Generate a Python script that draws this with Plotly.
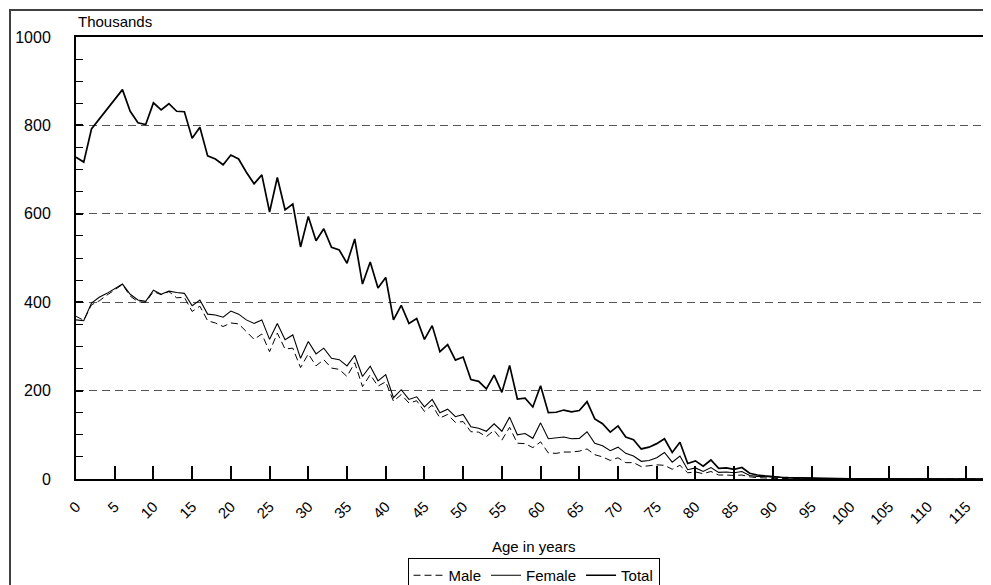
import plotly.graph_objects as go

ages = list(range(0, 119))

total = [
    728, 717, 792, 814, 836, 858, 881, 832, 806, 802,
    851, 835, 849, 832, 831, 771, 796, 731, 724, 711,
    733, 724, 694, 668, 688, 604, 682, 609, 622, 525,
    594, 539, 566, 524, 518, 488, 543, 441, 491, 432,
    456, 360, 393, 352, 363, 316, 347, 288, 304, 269,
    276, 225, 221, 204, 235, 196, 257, 181, 183, 163,
    211, 150, 151, 156, 152, 155, 175, 136, 125, 106,
    120, 95, 89, 68, 72, 80, 91, 60, 83, 35,
    41, 29, 43, 24, 25, 22, 26, 13, 9, 7,
    5, 4, 3, 2.5, 2.5, 1.5, 1, 0.6, 0.4, 0.3,
    0.4, 0.2, 0.1, 0.1, 0, 0, 0, 0, 0, 0,
    0, 0, 0, 0, 0, 0, 0, 0, 0,
]

female = [
    360, 358, 398, 411, 420, 430, 441, 418, 405, 402,
    427, 418, 425, 422, 420, 392, 405, 373, 371, 366,
    380, 373, 360, 352, 360, 316, 352, 315, 326, 273,
    311, 283, 296, 273, 270, 256, 280, 232, 255, 222,
    236, 184, 202, 180, 186, 163, 180, 150, 158, 141,
    146, 118, 115, 108, 125, 108, 140, 100, 103, 92,
    127, 91, 93, 95, 91, 92, 107, 81, 75, 64,
    72, 58, 52, 40, 42, 48, 60, 38, 52, 21,
    25, 17, 26, 15, 16, 14, 17, 8, 6, 5,
    3.5, 3, 2, 2, 2, 1, 0.7, 0.4, 0.3, 0.2,
    0.3, 0.1, 0.1, 0.1, 0, 0, 0, 0, 0, 0,
    0, 0, 0, 0, 0, 0, 0, 0, 0,
]

male = [
    368, 359, 394, 403, 416, 428, 440, 414, 401, 400,
    424, 417, 424, 410, 411, 379, 391, 358, 353, 345,
    353, 351, 334, 316, 328, 288, 330, 294, 296, 252,
    283, 256, 270, 251, 248, 232, 263, 209, 236, 210,
    220, 176, 191, 172, 177, 153, 167, 138, 146, 128,
    130, 107, 106, 96, 110, 88, 117, 81, 80, 71,
    84, 59, 58, 61, 61, 63, 68, 55, 50, 42,
    48, 37, 37, 28, 30, 32, 31, 22, 31, 14,
    16, 12, 17, 9, 9, 8, 9, 5, 3, 2,
    1.5, 1, 1, 0.5, 0.5, 0.5, 0.3, 0.2, 0.1, 0.1,
    0.1, 0.1, 0, 0, 0, 0, 0, 0, 0, 0,
    0, 0, 0, 0, 0, 0, 0, 0, 0,
]

x_ticks = list(range(0, 120, 5))
y_ticks = [0, 200, 400, 600, 800, 1000]

FONT = "Arial, Liberation Sans, sans-serif"

fig = go.Figure()
fig.add_trace(go.Scatter(x=ages, y=male, mode="lines", name="Male",
                         line=dict(color="black", width=1, dash="7px,4px")))
fig.add_trace(go.Scatter(x=ages, y=female, mode="lines", name="Female",
                         line=dict(color="black", width=1.1)))
fig.add_trace(go.Scatter(x=ages, y=total, mode="lines", name="Total",
                         line=dict(color="black", width=1.7)))

# The page body adds an 8px offset; the figure is sized to fit the window.
OFF = 8
W, H = 991 - OFF, 585 - OFF
L, T = 76 - OFF, 37 - OFF
PW, PH = W - L, 442
B = H - T - PH

def px_to_paper_x(px):
    return (px - OFF - L) / PW

def px_to_paper_y(py):
    return (T + PH - (py - OFF)) / PH

fig.update_layout(
    width=W, height=H,
    margin=dict(l=L, r=0, t=T, b=B, pad=0),
    paper_bgcolor="white", plot_bgcolor="white",
    font=dict(family=FONT, color="black", size=15),
    showlegend=True,
    legend=dict(
        orientation="h",
        xref="paper", x=0.5, xanchor="center",
        yref="container", y=(H - (558 - OFF)) / H, yanchor="top",
        bordercolor="black", borderwidth=1, bgcolor="white",
        font=dict(size=15), itemwidth=30, tracegroupgap=0,
    ),
    xaxis=dict(
        range=[0, PW / 7.743],
        tickmode="array", tickvals=x_ticks, ticktext=[str(v) for v in x_ticks],
        tickangle=-45, tickfont=dict(size=15),
        ticks="inside", ticklen=13, tickwidth=1.5, tickcolor="black",
        showline=True, linecolor="black", linewidth=2, mirror=True,
        showgrid=False, zeroline=False, automargin=False,
        ticklabelstandoff=11,
    ),
    yaxis=dict(
        range=[0, 1000],
        tickmode="array", tickvals=y_ticks, ticktext=[str(v) for v in y_ticks],
        tickfont=dict(size=16),
        ticks="inside", ticklen=7, tickwidth=1.5, tickcolor="black",
        minor=dict(dtick=50, tick0=0, ticks="inside", ticklen=7, tickwidth=1.2,
                   tickcolor="black", showgrid=False),
        showline=True, linecolor="black", linewidth=2,
        showgrid=True, gridcolor="#555555", gridwidth=1.2, griddash="8px,5px",
        zeroline=False, automargin=False,
        ticklabelstandoff=20,
    ),
    annotations=[
        dict(text="Thousands", xref="paper", yref="paper",
             x=px_to_paper_x(76), y=px_to_paper_y(22), xanchor="left", yanchor="middle",
             showarrow=False, font=dict(size=15)),
        dict(text="Age in years", xref="paper", yref="paper",
             x=0.5, y=px_to_paper_y(546), xanchor="center", yanchor="middle",
             showarrow=False, font=dict(size=15)),
    ],
    shapes=[
        dict(type="rect", xref="paper", yref="paper", layer="below",
             x0=px_to_paper_x(10), x1=px_to_paper_x(1000),
             y0=px_to_paper_y(600), y1=px_to_paper_y(10),
             line=dict(color="#404040", width=2), fillcolor="rgba(0,0,0,0)"),
    ],
)

fig.write_html("out.html")
